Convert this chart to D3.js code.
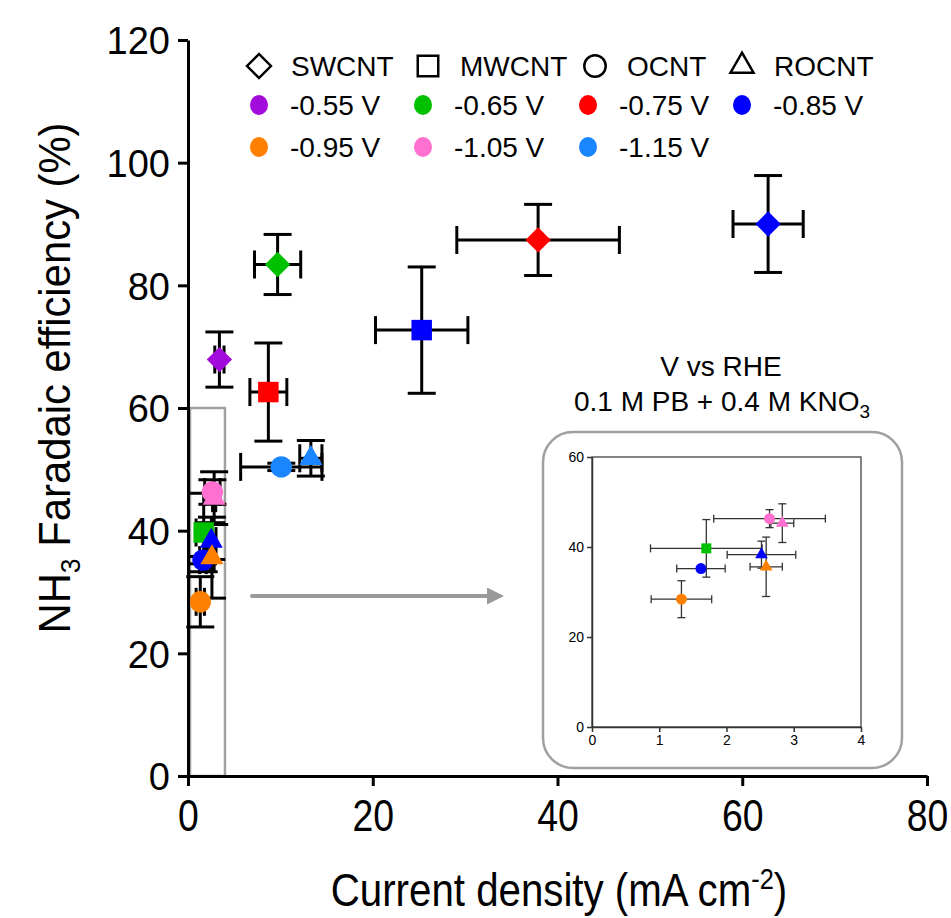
<!DOCTYPE html>
<meta charset="utf-8">
<style>
  body { margin: 0; background: #fff; }
  text { font-family: "Liberation Sans", Arial, sans-serif; }
</style>
<body>
<script src="https://d3js.org/d3.v7.min.js"></script>
<script>
  // materials (marker shape) and potentials (marker colour)
  var materials = ["SWCNT", "MWCNT", "OCNT", "ROCNT"];
  var potentials = ["-0.55 V", "-0.65 V", "-0.75 V", "-0.85 V", "-0.95 V", "-1.05 V", "-1.15 V"];
  var potentialColors = ["#a30bdb", "#00c000", "#ff0000", "#0000ff", "#ff8000", "#ff70d0", "#1a85ff"];

  // each point: [potential, current density, j error, FE, FE error]
  var swcnt = [
    ["-0.55 V", 3.4, 0.5, 67.9, 4.5],
    ["-0.65 V", 9.7, 2.5, 83.4, 4.9],
    ["-0.75 V", 37.9, 8.8, 87.4, 5.8],
    ["-0.85 V", 62.8, 3.8, 90.0, 7.9]
  ];
  var mwcnt = [
    ["-0.65 V", 1.70, 0.83, 39.7, 6.4],
    ["-0.75 V", 8.7, 2.0, 62.6, 8.0],
    ["-0.85 V", 25.3, 5.0, 72.7, 10.3]
  ];
  var ocnt = [
    ["-0.85 V", 1.62, 0.36, 35.2, 0.6],
    ["-0.95 V", 1.33, 0.45, 28.4, 4.1],
    ["-1.05 V", 2.64, 0.83, 46.3, 2.0],
    ["-1.15 V", 10.1, 4.4, 50.4, 0.6]
  ];
  var rocnt = [
    ["-0.85 V", 2.52, 0.51, 38.3, 3.0],
    ["-0.95 V", 2.59, 0.24, 35.6, 6.6],
    ["-1.05 V", 2.83, 0.17, 45.3, 4.3],
    ["-1.15 V", 13.3, 1.2, 51.8, 2.9]
  ];

  var xTicks = [0, 20, 40, 60, 80];
  var yTicks = [0, 20, 40, 60, 80, 100, 120];
  var insetXTicks = [0, 1, 2, 3, 4];
  var insetYTicks = [0, 20, 40, 60];

  var width = 951, height = 918;

  var svg = d3.select("body").append("svg")
    .attr("width", width)
    .attr("height", height);

  var color = d3.scaleOrdinal().domain(potentials).range(potentialColors);
  var shape = d3.scaleOrdinal().domain(materials)
    .range([d3.symbolSquare, d3.symbolSquare, d3.symbolCircle, d3.symbolTriangle]);

  var points = [];
  [swcnt, mwcnt, ocnt, rocnt].forEach(function(arr, i) {
    arr.forEach(function(d) {
      points.push({ mat: materials[i], pot: d[0], j: d[1], jErr: d[2], fe: d[3], feErr: d[4] });
    });
  });

  function symbolPath(mat, big) {
    var sizes = big ? { SWCNT: 320, MWCNT: 420, OCNT: 360, ROCNT: 230 }
                    : { SWCNT: 70, MWCNT: 100, OCNT: 95, ROCNT: 70 };
    return d3.symbol().type(shape(mat)).size(sizes[mat])();
  }
  function symbolTransform(mat, px, py) {
    return "translate(" + px + "," + py + ")" + (mat === "SWCNT" ? " rotate(45)" : "");
  }

  // ---------- main chart ----------
  var x = d3.scaleLinear().domain([0, 80]).range([188, 927]);
  var y = d3.scaleLinear().domain([0, 120]).range([776, 40]);

  // zoom box
  svg.append("rect")
    .attr("x", x(0) + 2).attr("y", y(60))
    .attr("width", x(4) - x(0) - 2).attr("height", y(0) - y(60))
    .style("fill", "none").style("stroke", "#a0a0a0").style("stroke-width", 2.5);

  function drawPoints(g, xs, ys, pts, big) {
    var cap = big ? 14 : 4;
    var sw = big ? 3 : 1.3;
    var col = big ? "#000" : "#333";
    var eb = g.append("g").style("stroke", col).style("stroke-width", sw).style("fill", "none");
    pts.forEach(function(d) {
      var cx = xs(d.j), cy = ys(d.fe);
      var x0 = xs(d.j - d.jErr), x1 = xs(d.j + d.jErr);
      var y0 = ys(d.fe - d.feErr), y1 = ys(d.fe + d.feErr);
      eb.append("line").attr("x1", x0).attr("x2", x1).attr("y1", cy).attr("y2", cy);
      eb.append("line").attr("x1", x0).attr("x2", x0).attr("y1", cy - cap).attr("y2", cy + cap);
      eb.append("line").attr("x1", x1).attr("x2", x1).attr("y1", cy - cap).attr("y2", cy + cap);
      eb.append("line").attr("x1", cx).attr("x2", cx).attr("y1", y0).attr("y2", y1);
      eb.append("line").attr("x1", cx - cap).attr("x2", cx + cap).attr("y1", y0).attr("y2", y0);
      eb.append("line").attr("x1", cx - cap).attr("x2", cx + cap).attr("y1", y1).attr("y2", y1);
    });
    g.selectAll("path.pt").data(pts).enter().append("path")
      .attr("class", "pt")
      .attr("d", function(d) { return symbolPath(d.mat, big); })
      .attr("transform", function(d) { return symbolTransform(d.mat, xs(d.j), ys(d.fe)); })
      .style("fill", function(d) { return color(d.pot); });
  }

  drawPoints(svg.append("g"), x, y, points, true);

  var xAxis = svg.append("g")
    .attr("transform", "translate(0," + y(0) + ")")
    .call(d3.axisBottom(x).tickValues(xTicks).tickSize(10).tickSizeOuter(0).tickPadding(14));
  var yAxis = svg.append("g")
    .attr("transform", "translate(" + x(0) + ",0)")
    .call(d3.axisLeft(y).tickValues(yTicks).tickSize(10).tickSizeOuter(0).tickPadding(8));
  [xAxis, yAxis].forEach(function(a) {
    a.select(".domain").style("stroke-width", 3);
    a.selectAll(".tick line").style("stroke-width", 3);
    a.selectAll("text").style("font-family", "Liberation Sans, Arial, sans-serif").style("fill", "#000");
  });
  xAxis.selectAll("text").style("font-size", "44px").attr("transform", "scale(0.85,1)");
  yAxis.selectAll("text").style("font-size", "38px").attr("dy", "0.36em");

  // axis titles
  svg.append("text")
    .attr("transform", "translate(559,906) scale(0.875,1)")
    .attr("text-anchor", "middle")
    .style("font-size", "46px")
    .html("Current density (mA cm<tspan dy='-17' font-size='29'>-2</tspan><tspan dy='17'>)</tspan>");

  svg.append("text")
    .attr("transform", "translate(70,378) rotate(-90) scale(0.95,1)")
    .attr("text-anchor", "middle")
    .style("font-size", "44px")
    .html("NH<tspan dy='10' font-size='28'>3</tspan><tspan dy='-10'> Faradaic efficiency (%)</tspan>");

  // ---------- legend ----------
  var legend = svg.append("g");
  var matX = [259, 428, 595, 742];
  materials.forEach(function(m, i) {
    legend.append("path")
      .attr("d", symbolPath(m, true))
      .attr("transform", symbolTransform(m, matX[i], 66) + (m === "SWCNT" ? " scale(0.95)" : ""))
      .style("fill", "none").style("stroke", "#000").style("stroke-width", 2.5);
    legend.append("text").attr("x", matX[i] + 32).attr("y", 76).style("font-size", "28px").text(m);
  });
  var potX = [259, 423, 588, 742];
  var potY = [105, 147];
  potentials.forEach(function(p, i) {
    var cx = potX[i % 4], cy = potY[Math.floor(i / 4)];
    legend.append("ellipse").attr("cx", cx).attr("cy", cy).attr("rx", 9).attr("ry", 10)
      .style("fill", color(p));
    legend.append("text").attr("x", cx + 31).attr("y", cy + 10).style("font-size", "28px").text(p);
  });

  // ---------- inset ----------
  svg.append("rect")
    .attr("x", 543).attr("y", 432).attr("width", 359).attr("height", 336)
    .attr("rx", 30).attr("ry", 30)
    .style("fill", "none").style("stroke", "#a0a0a0").style("stroke-width", 2.5);

  svg.append("text").attr("x", 721).attr("y", 376).attr("text-anchor", "middle")
    .style("font-size", "28px").text("V vs RHE");
  svg.append("text").attr("x", 722).attr("y", 411).attr("text-anchor", "middle")
    .style("font-size", "28px")
    .html("0.1 M PB + 0.4 M KNO<tspan dy='7' font-size='19'>3</tspan>");

  // arrow
  var defs = svg.append("defs");
  defs.append("marker").attr("id", "arr")
    .attr("viewBox", "0 0 10 10").attr("refX", 0).attr("refY", 5)
    .attr("markerUnits", "userSpaceOnUse")
    .attr("markerWidth", 20).attr("markerHeight", 17).attr("orient", "auto")
    .append("path").attr("d", "M0,0L10,5L0,10Z").style("fill", "#999");
  svg.append("line")
    .attr("x1", 252).attr("x2", 487).attr("y1", 596).attr("y2", 596)
    .style("stroke", "#999").style("stroke-width", 4).style("stroke-linecap", "round")
    .attr("marker-end", "url(#arr)");

  var ix = d3.scaleLinear().domain([0, 4]).range([592, 861]);
  var iy = d3.scaleLinear().domain([0, 60]).range([727, 457]);

  svg.append("rect")
    .attr("x", ix(0)).attr("y", iy(60)).attr("width", ix(4) - ix(0)).attr("height", iy(0) - iy(60))
    .style("fill", "none").style("stroke", "#333").style("stroke-width", 1.2);

  var insetPts = points.filter(function(d) { return d.j <= 4 && d.fe <= 60; });
  drawPoints(svg.append("g"), ix, iy, insetPts, false);

  var ixAxis = svg.append("g")
    .attr("transform", "translate(0," + iy(0) + ")")
    .call(d3.axisBottom(ix).tickValues(insetXTicks).tickFormat(d3.format("d"))
      .tickSize(5).tickSizeOuter(0).tickPadding(3));
  var iyAxis = svg.append("g")
    .attr("transform", "translate(" + ix(0) + ",0)")
    .call(d3.axisLeft(iy).tickValues(insetYTicks).tickFormat(d3.format("d"))
      .tickSize(5).tickSizeOuter(0).tickPadding(3));
  [ixAxis, iyAxis].forEach(function(a) {
    a.select(".domain").style("stroke", "#333").style("stroke-width", 1.5);
    a.selectAll(".tick line").style("stroke", "#333").style("stroke-width", 1.5);
    a.selectAll("text").style("font-family", "Liberation Sans, Arial, sans-serif")
      .style("font-size", "14px").style("fill", "#000");
  });
</script>
</body>
